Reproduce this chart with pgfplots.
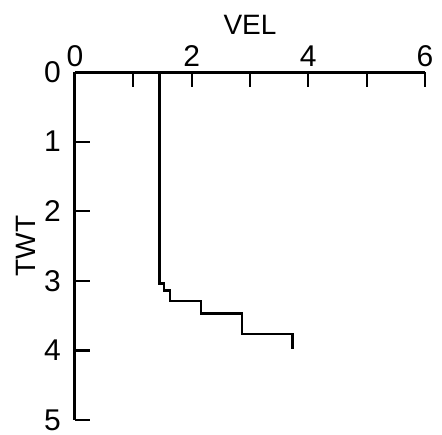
\documentclass[border=0pt]{standalone}
\usepackage{pgfplots}
\pgfplotsset{compat=1.18}
\usepackage{fontspec}
\setmainfont{Liberation Sans}

\begin{document}
\begin{tikzpicture}
\useasboundingbox (0,0) rectangle (442pt,-434pt);
\begin{axis}[
  at={(75pt,-72pt)}, anchor=north west,
  scale only axis,
  width=350pt, height=348pt,
  xmin=0, xmax=6, ymin=0, ymax=5,
  y dir=reverse,
  axis x line=top, axis y line=left,
  axis line style={-, line width=3pt},
  tick align=inside,
  major tick length=15pt,
  tick style={line width=2.2pt, black},
  xtick={0,1,2,3,4,5,6},
  xticklabels={0,,2,,4,,6},
  ytick={0,1,2,3,4,5},
  /pgf/number format/assume math mode=true,
  ticklabel style={font=\fontsize{30}{36}\selectfont, inner sep=0pt},
  xticklabel style={anchor=south, yshift=5pt},
  yticklabel style={anchor=east, xshift=-14pt},
  xlabel={VEL}, ylabel={TWT},
  label style={font=\fontsize{28}{34}\selectfont},
  xlabel style={at={(axis description cs:0.5,1)}, anchor=center, yshift=47pt},
  ylabel style={at={(axis description cs:0,0.5)}, anchor=center, yshift=49pt},
  clip=false,
]
% interval velocity against two-way time
\addplot[black, line width=2.4pt, line join=miter] coordinates {
  (1.45,0) (1.45,3.04) (1.53,3.04) (1.53,3.14) (1.63,3.14) (1.63,3.29)
  (2.16,3.29) (2.16,3.47) (2.86,3.47) (2.86,3.76) (3.73,3.76) (3.73,3.98)
};
\end{axis}
\end{tikzpicture}
\end{document}
